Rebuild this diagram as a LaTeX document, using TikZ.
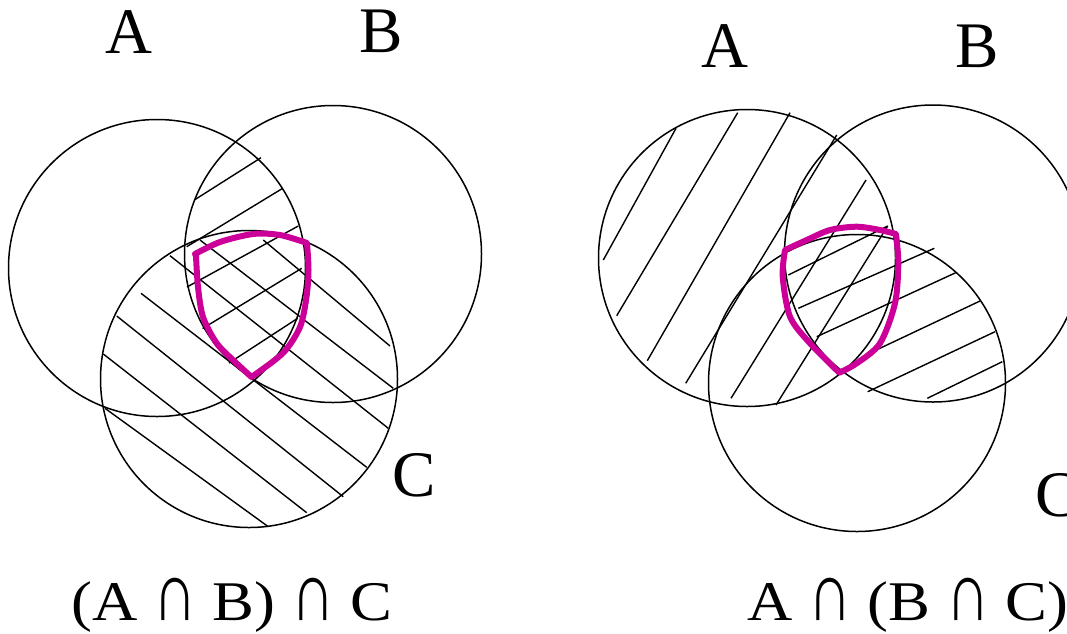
\documentclass[tikz,border=0pt]{standalone}
\usepackage{fontspec}
\setmainfont{Liberation Serif}
\newfontfamily\narrowcapfont[FakeStretch=0.64]{Liberation Serif}
\definecolor{magline}{RGB}{204,0,153}
\newcommand{\tallcapsym}{{\narrowcapfont\fontsize{84}{84}\selectfont ∩}}
\begin{document}
\begin{tikzpicture}[x=1pt,y=-1pt,
  setcirc/.style={circle,draw,line width=1.5pt,minimum size=297pt,inner sep=0pt},
  hatchline/.style={line width=1.4pt},
  magpath/.style={draw=magline,line width=6pt,line join=round},
  lbl/.style={font=\fontsize{65}{70}\selectfont,inner sep=0pt,anchor=base},
  capt/.style={font=\fontsize{56}{60}\selectfont,inner sep=0pt,anchor=base,xscale=1.12}]
\useasboundingbox (0,0) rectangle (1067,633);
% ---------- left diagram ----------
\node[setcirc] (lA) at (157,268) {};
\node[setcirc] (lB) at (333,254) {};
\node[setcirc] (lC) at (249,379) {};
% A cap B hatching
\draw[hatchline] (194.3,200) -- (261,157.7);
\draw[hatchline] (186.7,246.7) -- (282.7,188.3);
\draw[hatchline] (187,287) -- (298.3,226);
\draw[hatchline] (202.6,328.5) -- (301.7,268.3);
\draw[hatchline] (229,363) -- (297.7,318.3);
% C hatching
\draw[hatchline] (263.3,240) -- (390,346);
\draw[hatchline] (200,240) -- (393.3,388.3);
\draw[hatchline] (170,255.7) -- (388.3,428.3);
\draw[hatchline] (141,293.3) -- (366.7,467.3);
\draw[hatchline] (116.7,316) -- (343.3,496.7);
\draw[hatchline] (103.3,354) -- (306.7,512.7);
\draw[hatchline] (105,408.3) -- (268.3,526.7);
% magenta outline
\draw[magpath] plot[smooth] coordinates {(195,254) (220,242) (253,234) (280,235) (307,243)}
  -- plot[smooth] coordinates {(307,243) (308.5,270) (306.5,297) (300,327) (283,353) (251.5,377)}
  -- plot[smooth] coordinates {(251.5,377) (233,360) (216.5,343) (203,317) (198,287) (196,256)}
  -- cycle;
\node[lbl] (lAlab) at (129,53) {A};
\node[lbl] (lBlab) at (381,52) {B};
\node[lbl] (lClab) at (414,496) {C};
\node[capt] (lcap) at (232,620) {(A \tallcapsym{} B) \tallcapsym{} C};
% ---------- right diagram ----------
\node[setcirc] (rA) at (747,258) {};
\node[setcirc] (rB) at (933,253.5) {};
\node[setcirc] (rC) at (857,383) {};
% A hatching
\draw[hatchline] (603.3,260) -- (676,128.3);
\draw[hatchline] (616.7,315.7) -- (737.7,112.7);
\draw[hatchline] (647.3,360.7) -- (790,112.7);
\draw[hatchline] (685.7,383.3) -- (836.7,135);
\draw[hatchline] (731,398.3) -- (866,180);
\draw[hatchline] (776,405) -- (887.7,226);
% B cap C hatching
\draw[hatchline] (788.3,275) -- (887.7,226);
\draw[hatchline] (798.3,308.3) -- (934.3,248.3);
\draw[hatchline] (816.7,336.7) -- (955.7,272.7);
\draw[hatchline] (869.3,353.3) -- (980,301);
\draw[hatchline] (867.7,391.7) -- (995,331.7);
\draw[hatchline] (927.3,398.3) -- (1002.3,361.7);
% magenta outline
\draw[magpath] plot[smooth] coordinates {(785,250) (806.7,240) (830,230) (856.7,226.7) (880,230) (896,234)}
  -- plot[smooth] coordinates {(896,234) (898.3,263.3) (895,303.3) (880,343.3) (856.7,363.3) (839.3,372.7)}
  -- plot[smooth] coordinates {(839.3,372.7) (810,343.3) (790,316.7) (782.7,276.7) (785,250)}
  -- cycle;
\node[lbl] (rAlab) at (725,67) {A};
\node[lbl] (rBlab) at (977,67) {B};
\node[lbl] (rClab) at (1057,516) {C};
\node[capt] (rcap) at (908,620) {A \tallcapsym{} (B \tallcapsym{} C)};
\end{tikzpicture}
\end{document}
